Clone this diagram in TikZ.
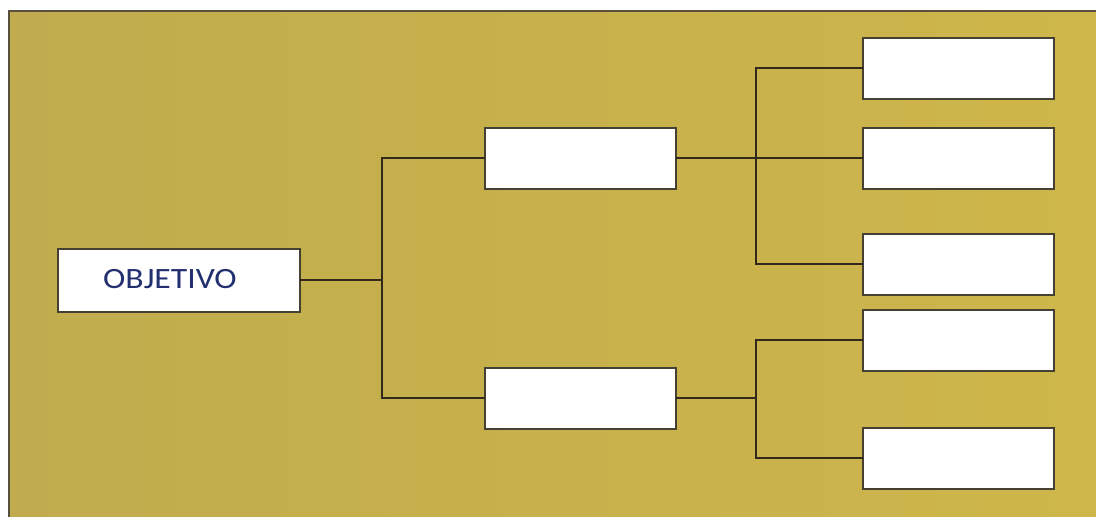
\documentclass[tikz,border=0pt]{standalone}
\usepackage{fontspec}
\newfontfamily\objfont{Carlito}
\definecolor{bgleft}{RGB}{192,172,78}
\definecolor{bgright}{RGB}{206,182,74}
\definecolor{edgecol}{RGB}{88,80,62}
\definecolor{linecol}{RGB}{50,40,28}
\definecolor{boxedge}{RGB}{70,64,50}
\definecolor{navy}{RGB}{34,48,112}
\tikzset{
  box/.style={draw=boxedge, line width=2pt, fill=white, minimum width=191pt, minimum height=61pt, inner sep=0pt, outer sep=0pt},
  conn/.style={draw=linecol, line width=2pt},
}
\begin{document}
\begin{tikzpicture}[x=1pt,y=-1pt]
\useasboundingbox (0,0) rectangle (1096,517);
\fill[white] (0,0) rectangle (1096,517);
\shade[left color=bgleft, right color=bgright] (9,11) rectangle (1096,517);
\draw[edgecol, line width=1.8pt] (9,517) -- (9,11) -- (1096,11);
% nodes
\node[box, minimum width=242pt, minimum height=63pt] (obj) at (179,280) {};
\node[anchor=west, text=navy, font=\objfont\fontsize{29.5}{30}\selectfont, inner sep=0pt] (objtxt) at (103,279) {\scalebox{1.14}[1]{OBJETIVO}};
\node[box] (m1) at (580,158) {};
\node[box] (m2) at (580,398) {};
\node[box] (r1) at (958,68) {};
\node[box] (r2) at (958,158) {};
\node[box] (r3) at (958,264) {};
\node[box] (r4) at (958,340) {};
\node[box] (r5) at (958,458) {};
% junctions
\coordinate (j0) at (382,280);
\coordinate (j1) at (756,158);
\coordinate (j2) at (756,398);
% connectors
\draw[conn] (obj.east) -- (j0);
\draw[conn] (j0) |- (m1.west);
\draw[conn] (j0) |- (m2.west);
\draw[conn] (m1.east) -- (r2.west);
\draw[conn] (j1) |- (r1.west);
\draw[conn] (j1) |- (r3.west);
\draw[conn] (m2.east) -- (j2);
\draw[conn] (j2) |- (r4.west);
\draw[conn] (j2) |- (r5.west);
\end{tikzpicture}
\end{document}
